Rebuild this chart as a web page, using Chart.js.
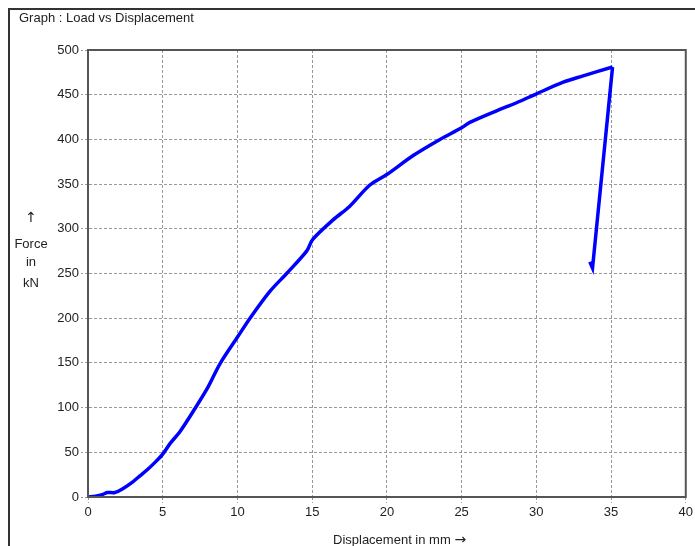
<!DOCTYPE html>
<html>
<head>
<meta charset="utf-8">
<script src="https://cdn.jsdelivr.net/npm/chart.js@4"></script>
<style>
  html, body { margin: 0; padding: 0; background: #fff; }
  #wrap { position: relative; width: 695px; height: 546px; overflow: hidden; font-family: "Liberation Sans", Arial, sans-serif; color: #222; }
  #frame { position: absolute; left: 8px; top: 8px; width: 700px; height: 560px; border-left: 2px solid #333; border-top: 2px solid #333; box-sizing: border-box; }
  #title { position: absolute; left: 19px; top: 10px; font-size: 13px; }
  .yl { position: absolute; left: 8px; width: 46px; text-align: center; font-size: 13px; }
  .arr { font-family: "DejaVu Sans", sans-serif; font-size: 14px; }
  #xlab { position: absolute; left: 333px; top: 531px; font-size: 13px; white-space: nowrap; }
  canvas { position: absolute; left: 0; top: 0; }
</style>
</head>
<body>
<div id="wrap">
  <div id="frame"></div>
  <canvas id="chart" width="695" height="546"></canvas>
  <div id="title">Graph : Load vs Displacement</div>
  <div class="yl arr" style="top:209px">&#8593;</div>
  <div class="yl" style="top:236px">Force</div>
  <div class="yl" style="top:254px">in</div>
  <div class="yl" style="top:275px">kN</div>
  <div id="xlab">Displacement in mm <span class="arr">&#8594;</span></div>
</div>
<script>
// displacement (mm) and load (kN)
var dispData = [0, 0.5, 1.0, 1.3, 1.8, 2.3, 3.0, 3.5, 4.0, 4.5, 5.0, 5.5, 6.15, 7.16, 8.0, 8.83, 10.05, 10.84, 12.17, 13.29, 14.63, 15.03, 16.4, 17.5, 18.86, 20.02, 21.76, 23.55, 25.0, 25.55, 27.34, 28.68, 30.01, 31.8, 33.13, 35.1, 33.76, 33.58];
var loadData = [0, 1, 3, 5, 5, 9, 17, 24, 31, 39, 48, 60, 73, 99, 122, 149, 180, 200, 230, 250, 275, 288, 310, 325, 349, 361, 382, 400, 413, 419, 432, 441, 451, 464, 471, 481, 256, 263];

var xTicks = [0, 5, 10, 15, 20, 25, 30, 35, 40];
var yTicks = [0, 50, 100, 150, 200, 250, 300, 350, 400, 450, 500];

// index of the peak load, after it the specimen unloads
var peakIdx = loadData.indexOf(Math.max(...loadData));

const points = dispData.map((d, i) => {
  return { x: d, y: loadData[i] };
});

// box round the plot area
const boxPlugin = {
  id: 'box',
  afterDraw(chart) {
    const a = chart.chartArea;
    const ctx = chart.ctx;
    ctx.save();
    ctx.strokeStyle = '#555';
    ctx.lineWidth = 2;
    ctx.strokeRect(a.left, a.top, a.right - a.left, a.bottom - a.top);
    ctx.restore();
  }
};

const tickFont = { family: '"Liberation Sans", Arial, sans-serif', size: 13 };

const chart = new Chart('chart', {
  type: 'scatter',
  data: {
    datasets: [{
      data: points.slice(0, peakIdx + 1),
      showLine: true,
      borderColor: '#0000ff',
      borderWidth: 3.5,
      pointRadius: 0,
      tension: 0.3
    }, {
      data: points.slice(peakIdx),
      showLine: true,
      borderColor: '#0000ff',
      borderWidth: 3.5,
      pointRadius: 0,
      tension: 0
    }]
  },
  options: {
    responsive: false,
    animation: false,
    layout: { padding: { left: 0, top: 50, right: 8, bottom: 29 } },
    plugins: { legend: { display: false }, tooltip: { enabled: false } },
    scales: {
      x: {
        type: 'linear',
        min: 0,
        max: 40,
        afterBuildTicks: s => { s.ticks = xTicks.map(v => ({ value: v })); },
        afterFit: s => { s.height = 20; },
        ticks: { color: '#222', font: tickFont, padding: 2, maxRotation: 0 },
        grid: { color: '#999', lineWidth: 1, tickLength: 6, tickBorderDash: [2, 2] },
        border: { color: '#555', width: 2, dash: [3, 2] }
      },
      y: {
        type: 'linear',
        min: 0,
        max: 500,
        afterBuildTicks: s => { s.ticks = yTicks.map(v => ({ value: v })); },
        afterFit: s => { s.width = 88; },
        ticks: { color: '#222', font: tickFont, padding: 2 },
        grid: { color: '#999', lineWidth: 1, tickLength: 7, tickBorderDash: [2, 2] },
        border: { color: '#555', width: 2, dash: [3, 2] }
      }
    }
  },
  plugins: [boxPlugin]
});
</script>
</body>
</html>
